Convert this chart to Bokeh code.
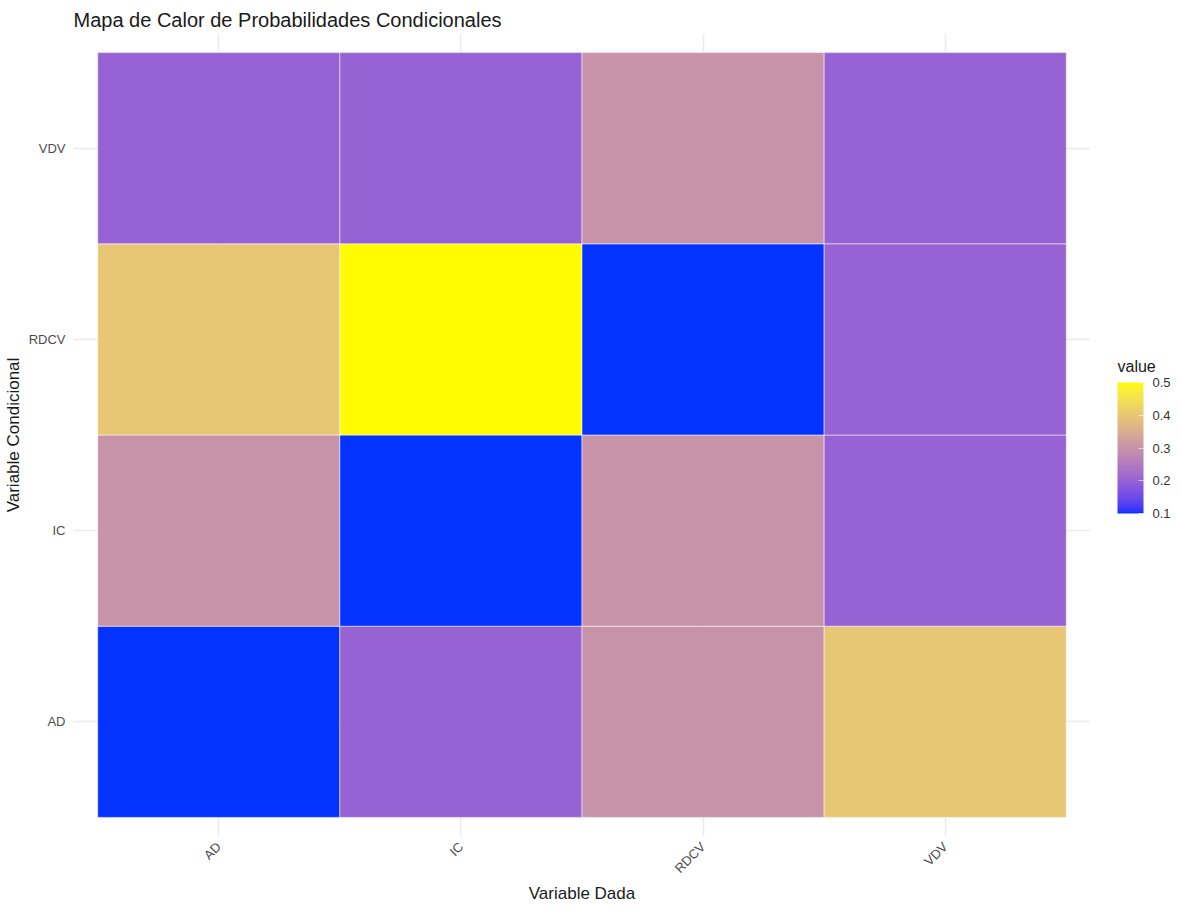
import numpy as np
from bokeh.plotting import figure
from bokeh.layouts import row
from bokeh.models import (ColumnDataSource, LinearColorMapper, ColorBar, FixedTicker,
                          Range1d)
from bokeh.core.properties import value
from bokeh.embed import file_html
from bokeh.resources import INLINE

# ---- data ----
x_categories = ["AD", "IC", "RDCV", "VDV"]          # Variable Dada
y_categories = ["AD", "IC", "RDCV", "VDV"]          # Variable Condicional
# rows follow y_categories, columns follow x_categories
values_AD   = [0.1, 0.2, 0.3, 0.4]
values_IC   = [0.3, 0.1, 0.3, 0.2]
values_RDCV = [0.4, 0.5, 0.1, 0.2]
values_VDV  = [0.2, 0.2, 0.3, 0.2]
legend_ticks = [0.1, 0.2, 0.3, 0.4, 0.5]
legend_title = "value"

rows = [values_AD, values_IC, values_RDCV, values_VDV]

# ---- Lab gradient blue -> yellow (like ggplot scale_fill_gradient) ----
def _srgb_to_lin(c):
    c = c / 255.0
    return np.where(c <= 0.04045, c / 12.92, ((c + 0.055) / 1.055) ** 2.4)

def _lin_to_srgb(c):
    c = np.clip(c, 0, 1)
    return np.where(c <= 0.0031308, 12.92 * c, 1.055 * c ** (1 / 2.4) - 0.055) * 255

M = np.array([[0.4124564, 0.3575761, 0.1804375],
              [0.2126729, 0.7151522, 0.0721750],
              [0.0193339, 0.1191920, 0.9503041]])
WHITE = np.array([0.95047, 1.0, 1.08883])

def hex_to_lab(h):
    rgb = np.array([int(h[i:i + 2], 16) for i in (1, 3, 5)], dtype=float)
    xyz = M @ _srgb_to_lin(rgb) / WHITE
    f = np.where(xyz > (6 / 29) ** 3, np.cbrt(xyz), xyz / (3 * (6 / 29) ** 2) + 4 / 29)
    return np.array([116 * f[1] - 16, 500 * (f[0] - f[1]), 200 * (f[1] - f[2])])

def lab_to_hex(lab):
    L, a, b = lab
    fy = (L + 16) / 116
    fx = fy + a / 500
    fz = fy - b / 200
    f = np.array([fx, fy, fz])
    xyz = np.where(f > 6 / 29, f ** 3, 3 * (6 / 29) ** 2 * (f - 4 / 29)) * WHITE
    rgb = _lin_to_srgb(np.linalg.inv(M) @ xyz)
    r, g, bb = [int(round(v)) for v in rgb]
    return "#%02x%02x%02x" % (r, g, bb)

lab_lo = hex_to_lab("#0433FF")
lab_hi = hex_to_lab("#FFFB00")
palette = [lab_to_hex(lab_lo + (lab_hi - lab_lo) * t) for t in np.linspace(0, 1, 256)]

mapper = LinearColorMapper(palette=palette, low=min(legend_ticks), high=max(legend_ticks))

xs, ys, vs = [], [], []
for yi, r in enumerate(rows):
    for xi, v in enumerate(r):
        xs.append(xi + 1)
        ys.append(yi + 1)
        vs.append(v)
source = ColumnDataSource(dict(x=xs, y=ys, value=vs))

FONT = "Liberation Sans"
H = 910
MAIN_W = 1090
LEG_W = 91
TOP_B, BOTTOM_B = 33, 74
FRAME_TOP, FRAME_BOTTOM = TOP_B, H - BOTTOM_B

p = figure(width=MAIN_W, height=H, output_backend="svg", toolbar_location=None,
           x_range=Range1d(0.4, len(x_categories) + 0.6),
           y_range=Range1d(0.4, len(y_categories) + 0.6),
           title="Mapa de Calor de Probabilidades Condicionales",
           min_border_left=73, min_border_top=TOP_B, min_border_bottom=BOTTOM_B,
           min_border_right=0)

p.rect(x="x", y="y", width=1, height=1, source=source,
       fill_color={"field": "value", "transform": mapper},
       line_color="white", line_alpha=0.5, line_width=1)

p.background_fill_color = "white"
p.border_fill_color = "white"
p.outline_line_color = None

p.title.text_font = FONT
p.title.text_font_size = "20px"
p.title.text_font_style = "normal"
p.title.text_color = "#1a1a1a"
p.title.standoff = 6
p.title.offset = 0

for ax, cats in ((p.xaxis[0], x_categories), (p.yaxis[0], y_categories)):
    ax.ticker = FixedTicker(ticks=list(range(1, len(cats) + 1)))
    ax.major_label_overrides = {i + 1: c for i, c in enumerate(cats)}
    ax.axis_line_color = None
    ax.major_tick_line_color = None
    ax.minor_tick_line_color = None
    ax.major_tick_out = 0
    ax.major_tick_in = 0
    ax.minor_tick_out = 0
    ax.major_label_text_font = FONT
    ax.major_label_text_font_size = "13px"
    ax.major_label_text_color = "#4d4d4d"
    ax.axis_label_text_font = FONT
    ax.axis_label_text_font_size = "17px"
    ax.axis_label_text_font_style = "normal"
    ax.axis_label_text_color = "#1a1a1a"

p.xaxis.axis_label = "Variable Dada"
p.yaxis.axis_label = "Variable Condicional"
p.xaxis.major_label_orientation = np.pi / 4
p.xaxis.major_label_standoff = 8
p.yaxis.major_label_standoff = 8
p.xaxis.axis_label_standoff = 0
p.yaxis.axis_label_standoff = 3

p.xgrid.grid_line_color = "#ebebeb"
p.ygrid.grid_line_color = "#ebebeb"
p.xgrid.grid_line_width = 1.5
p.ygrid.grid_line_width = 1.5

# ---- legend panel: its frame is aligned with the main frame; y runs in page pixels ----
leg = figure(width=LEG_W, height=H, output_backend="svg", toolbar_location=None,
             x_range=Range1d(0, LEG_W), y_range=Range1d(FRAME_BOTTOM, FRAME_TOP),
             min_border_left=0, min_border_right=0,
             min_border_top=TOP_B, min_border_bottom=BOTTOM_B, outline_line_color=None)
leg.axis.visible = False
leg.grid.visible = False
leg.background_fill_color = "white"
leg.border_fill_color = "white"

BAR_LEFT, BAR_TOP, BAR_W, BAR_H = 27, 382, 26, 131

leg.text(x=[BAR_LEFT], y=[BAR_TOP - 16], text=[legend_title],
         text_font=value(FONT), text_font_size="16px", text_color="#1a1a1a",
         text_baseline="alphabetic", text_align="left")

cb = ColorBar(color_mapper=mapper, ticker=FixedTicker(ticks=legend_ticks),
              width=BAR_W, height=BAR_H,
              location=(BAR_LEFT, FRAME_BOTTOM - (BAR_TOP + BAR_H)),
              major_label_text_font=FONT, major_label_text_font_size="13px",
              major_label_text_color="#333333", label_standoff=9,
              major_tick_line_color="white", major_tick_line_alpha=0.6, major_tick_in=5,
              bar_line_color=None, border_line_color=None, background_fill_color=None,
              padding=0)
leg.add_layout(cb, "center")

layout = row(p, leg, spacing=0)

open("out.html", "w").write(file_html(layout, INLINE))
